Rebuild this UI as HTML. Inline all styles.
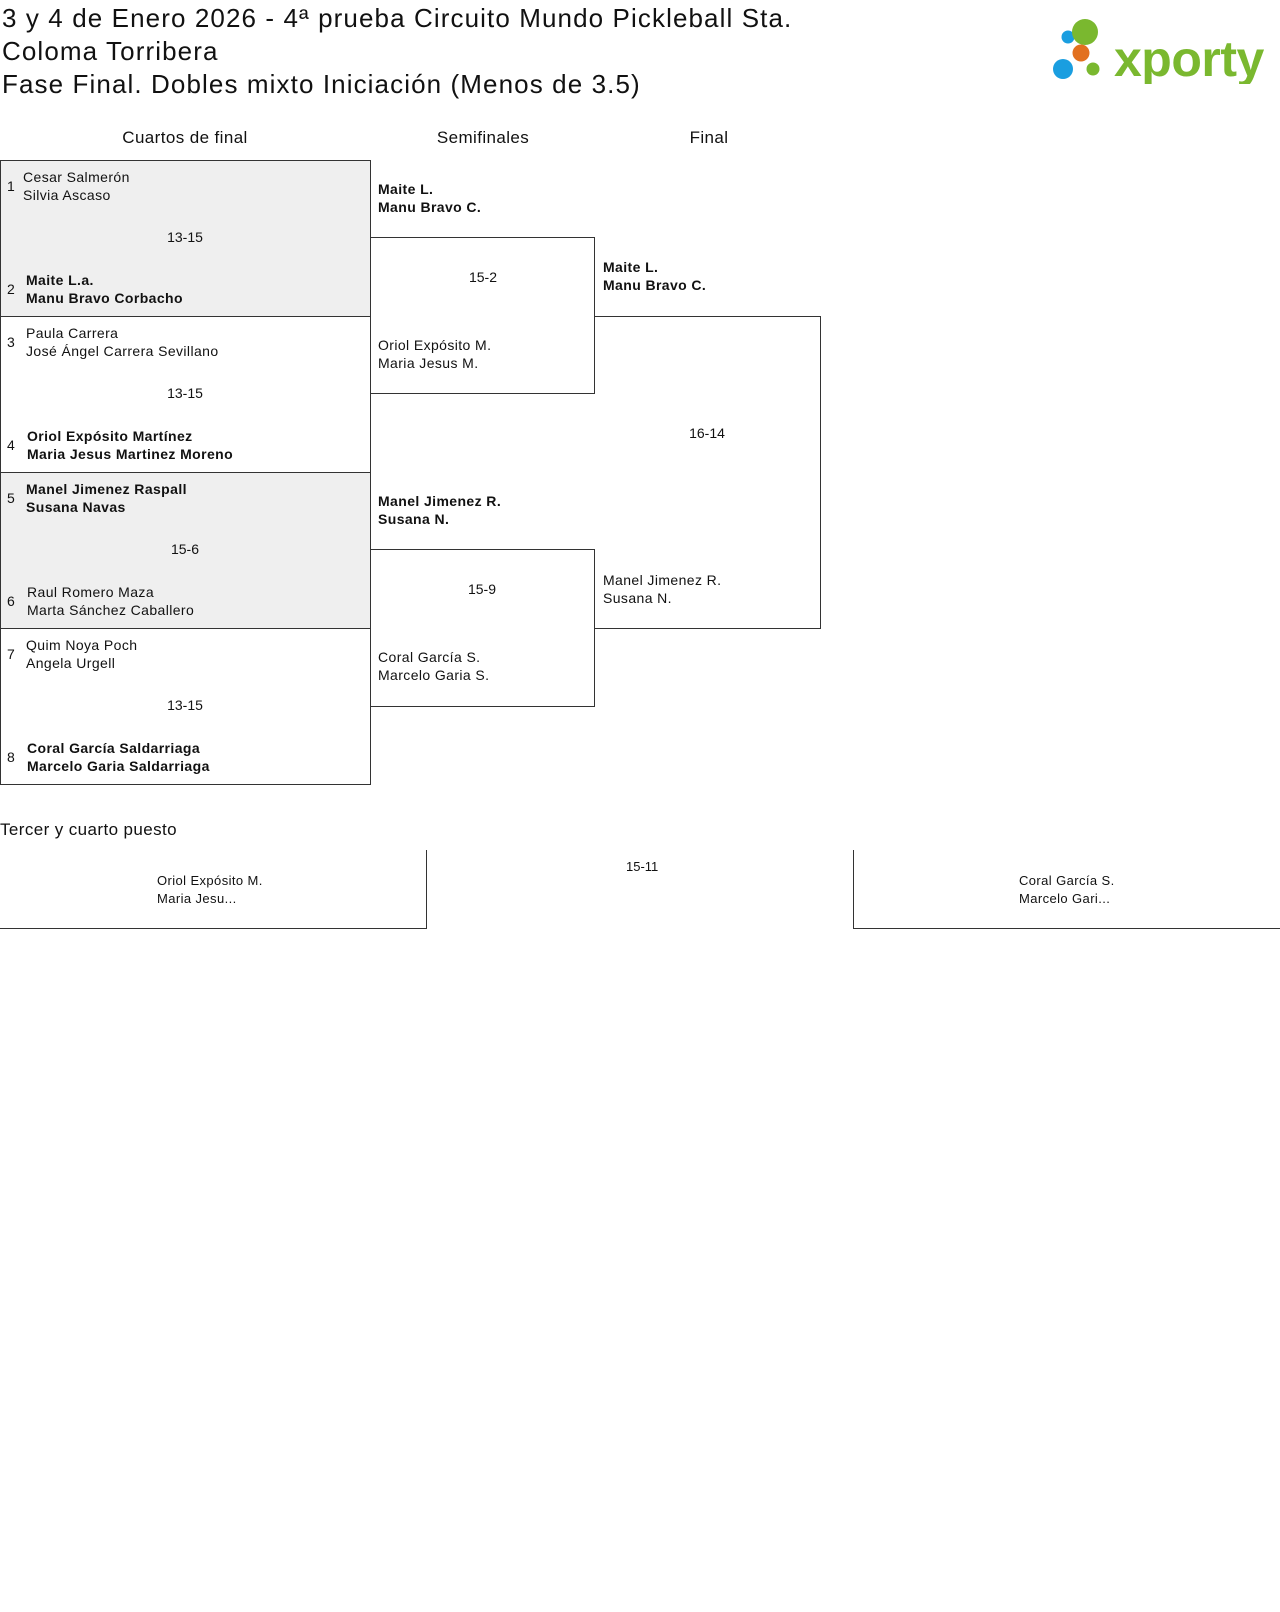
<!DOCTYPE html>
<html><head><meta charset="utf-8">
<style>
*{margin:0;padding:0;box-sizing:border-box}
body{width:1280px;height:1612px;background:#fff;position:relative;font-family:"Liberation Sans",sans-serif;color:#111;overflow:hidden}
.a{position:absolute}
.t{font-size:26px;line-height:33px;left:2px;top:2px;letter-spacing:1.1px;white-space:nowrap}
.h{font-size:17px;text-align:center;width:200px;letter-spacing:0.4px}
.box{position:absolute;border:1px solid #333}
.n{position:absolute;font-size:14px;line-height:18px;white-space:nowrap;letter-spacing:0.4px}
.b{font-weight:bold}
.s{position:absolute;font-size:14px;text-align:center;width:200px}
.num{position:absolute;font-size:14px}
</style></head><body>
<div class="a t">3 y 4 de Enero 2026 - 4ª prueba Circuito Mundo Pickleball Sta.<br>Coloma Torribera<br>Fase Final. Dobles mixto Iniciación (Menos de 3.5)</div>

<svg class="a" style="left:1050px;top:18px" width="230" height="66">
<circle cx="18" cy="19" r="6.5" fill="#1a9ee0"/>
<circle cx="35" cy="14" r="13" fill="#7ab82f"/>
<circle cx="31" cy="35" r="8.5" fill="#e2701f"/>
<circle cx="13" cy="51" r="10" fill="#1a9ee0"/>
<circle cx="43" cy="51" r="6.5" fill="#7ab82f"/>
<text x="64" y="58" font-family="Liberation Sans" font-weight="bold" font-size="50" fill="#7ab82f" letter-spacing="-0.5">xporty</text>
</svg>

<div class="a h" style="left:85px;top:128px">Cuartos de final</div>
<div class="a h" style="left:383px;top:128px">Semifinales</div>
<div class="a h" style="left:609px;top:128px">Final</div>

<!-- QF -->
<div class="box" style="left:0;top:160px;width:371px;height:157px;background:#efefef"></div>
<div class="box" style="left:0;top:316px;width:371px;height:157px;background:#fff"></div>
<div class="box" style="left:0;top:472px;width:371px;height:157px;background:#efefef"></div>
<div class="box" style="left:0;top:628px;width:371px;height:157px;background:#fff"></div>

<div class="num" style="left:7px;top:178px">1</div>
<div class="n" style="left:23px;top:168px">Cesar Salmerón<br>Silvia Ascaso</div>
<div class="s" style="left:85px;top:229px">13-15</div>
<div class="num" style="left:7px;top:281px">2</div>
<div class="n b" style="left:26px;top:271px">Maite L.a.<br>Manu Bravo Corbacho</div>

<div class="num" style="left:7px;top:334px">3</div>
<div class="n" style="left:26px;top:324px">Paula Carrera<br>José Ángel Carrera Sevillano</div>
<div class="s" style="left:85px;top:385px">13-15</div>
<div class="num" style="left:7px;top:437px">4</div>
<div class="n b" style="left:27px;top:427px">Oriol Expósito Martínez<br>Maria Jesus Martinez Moreno</div>

<div class="num" style="left:7px;top:490px">5</div>
<div class="n b" style="left:26px;top:480px">Manel Jimenez Raspall<br>Susana Navas</div>
<div class="s" style="left:85px;top:541px">15-6</div>
<div class="num" style="left:7px;top:593px">6</div>
<div class="n" style="left:27px;top:583px">Raul Romero Maza<br>Marta Sánchez Caballero</div>

<div class="num" style="left:7px;top:646px">7</div>
<div class="n" style="left:26px;top:636px">Quim Noya Poch<br>Angela Urgell</div>
<div class="s" style="left:85px;top:697px">13-15</div>
<div class="num" style="left:7px;top:749px">8</div>
<div class="n b" style="left:27px;top:739px">Coral García Saldarriaga<br>Marcelo Garia Saldarriaga</div>

<!-- SF -->
<div class="box" style="left:370px;top:237px;width:225px;height:157px"></div>
<div class="box" style="left:370px;top:549px;width:225px;height:158px"></div>
<div class="n b" style="left:378px;top:180px">Maite L.<br>Manu Bravo C.</div>
<div class="s" style="left:383px;top:269px">15-2</div>
<div class="n" style="left:378px;top:336px">Oriol Expósito M.<br>Maria Jesus M.</div>
<div class="n b" style="left:378px;top:492px">Manel Jimenez R.<br>Susana N.</div>
<div class="s" style="left:382px;top:581px">15-9</div>
<div class="n" style="left:378px;top:648px">Coral García S.<br>Marcelo Garia S.</div>

<!-- Final -->
<div class="box" style="left:594px;top:316px;width:227px;height:313px;border-left:none"></div>
<div class="n b" style="left:603px;top:258px">Maite L.<br>Manu Bravo C.</div>
<div class="s" style="left:607px;top:425px">16-14</div>
<div class="n" style="left:603px;top:571px">Manel Jimenez R.<br>Susana N.</div>

<!-- Third place -->
<div class="a" style="left:0;top:820px;font-size:17px;letter-spacing:0.4px">Tercer y cuarto puesto</div>
<div class="a" style="left:0;top:850px;width:427px;height:79px;border-right:1px solid #333;border-bottom:1px solid #333"></div>
<div class="a" style="left:853px;top:850px;width:427px;height:79px;border-left:1px solid #333;border-bottom:1px solid #333"></div>
<div class="n" style="left:157px;top:872px;font-size:13px">Oriol Expósito M.<br>Maria Jesu...</div>
<div class="a" style="left:626px;top:859px;font-size:13px">15-11</div>
<div class="n" style="left:1019px;top:872px;font-size:13px">Coral García S.<br>Marcelo Gari...</div>
</body></html>
